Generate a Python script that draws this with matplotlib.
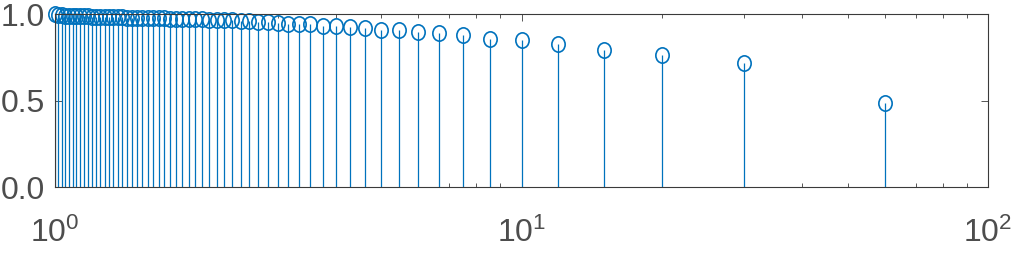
import matplotlib
import matplotlib.pyplot as plt
from matplotlib.path import Path
from matplotlib.transforms import Affine2D

plt.switch_backend("Agg")

plt.rcParams['font.family'] = ['Liberation Sans', 'DejaVu Sans']
plt.rcParams['mathtext.fontset'] = 'custom'
plt.rcParams['mathtext.rm'] = 'Liberation Sans'

# stem positions (60/k, k = 1..60) and heights
x_vals = [60.0, 30.0, 20.0, 15.0, 12.0, 10.0, 8.571, 7.5, 6.667, 6.0,
          5.455, 5.0, 4.615, 4.286, 4.0, 3.75, 3.529, 3.333, 3.158, 3.0,
          2.857, 2.727, 2.609, 2.5, 2.4, 2.308, 2.222, 2.143, 2.069, 2.0,
          1.935, 1.875, 1.818, 1.765, 1.714, 1.667, 1.622, 1.579, 1.538, 1.5,
          1.463, 1.429, 1.395, 1.364, 1.333, 1.304, 1.277, 1.25, 1.224, 1.2,
          1.176, 1.154, 1.132, 1.111, 1.091, 1.071, 1.053, 1.034, 1.017, 1.0]
y_vals = [0.49, 0.72, 0.765, 0.795, 0.828, 0.85, 0.86, 0.88, 0.89, 0.90,
          0.91, 0.912, 0.92, 0.925, 0.932, 0.935, 0.942, 0.944, 0.946, 0.95,
          0.955, 0.958, 0.96, 0.962, 0.965, 0.966, 0.967, 0.969, 0.97, 0.971,
          0.972, 0.973, 0.974, 0.975, 0.976, 0.977, 0.978, 0.978, 0.979, 0.98,
          0.981, 0.981, 0.982, 0.983, 0.984, 0.984, 0.985, 0.986, 0.986, 0.987,
          0.988, 0.988, 0.989, 0.99, 0.991, 0.992, 0.993, 0.995, 0.997, 1.0]

y_ticks = [0.0, 0.5, 1.0]
y_labels = ["0.0", "0.5", "1.0"]

BLUE = "#0072BD"
AXC = "#3a3a3a"
TXT = "#4d4d4d"

# slightly tall open circle, like the reference
oval = Path.unit_circle().transformed(Affine2D().scale(0.87, 1.0))

fig = plt.figure(figsize=(10.24, 2.56), dpi=100)
ax = fig.add_axes([55 / 1024, 1 - 187.3 / 256, (988 - 55) / 1024, (187.3 - 14.3) / 256])

markerline, stemlines, baseline = ax.stem(x_vals, y_vals, basefmt=" ")
stemlines.set_color(BLUE)
stemlines.set_linewidth(0.9)
markerline.set_marker(oval)
markerline.set_markersize(11)
markerline.set_markerfacecolor("none")
markerline.set_markeredgecolor(BLUE)
markerline.set_markeredgewidth(1.2)
markerline.set_clip_on(False)

ax.set_xscale("log")
ax.set_xlim(1, 100)
ax.set_ylim(0, 1)
ax.set_yticks(y_ticks)
ax.set_yticklabels(y_labels)

for s in ax.spines.values():
    s.set_color(AXC)
    s.set_linewidth(0.8)

ax.tick_params(axis="both", which="both", direction="in", top=True, right=True,
               color=AXC, labelcolor=TXT, labelsize=23)
ax.tick_params(axis="both", which="major", length=5, width=0.6)
ax.tick_params(axis="both", which="minor", length=3, width=0.6)
ax.tick_params(axis="x", pad=22)
ax.tick_params(axis="y", pad=7)

fig.savefig("out.png", dpi=100)
